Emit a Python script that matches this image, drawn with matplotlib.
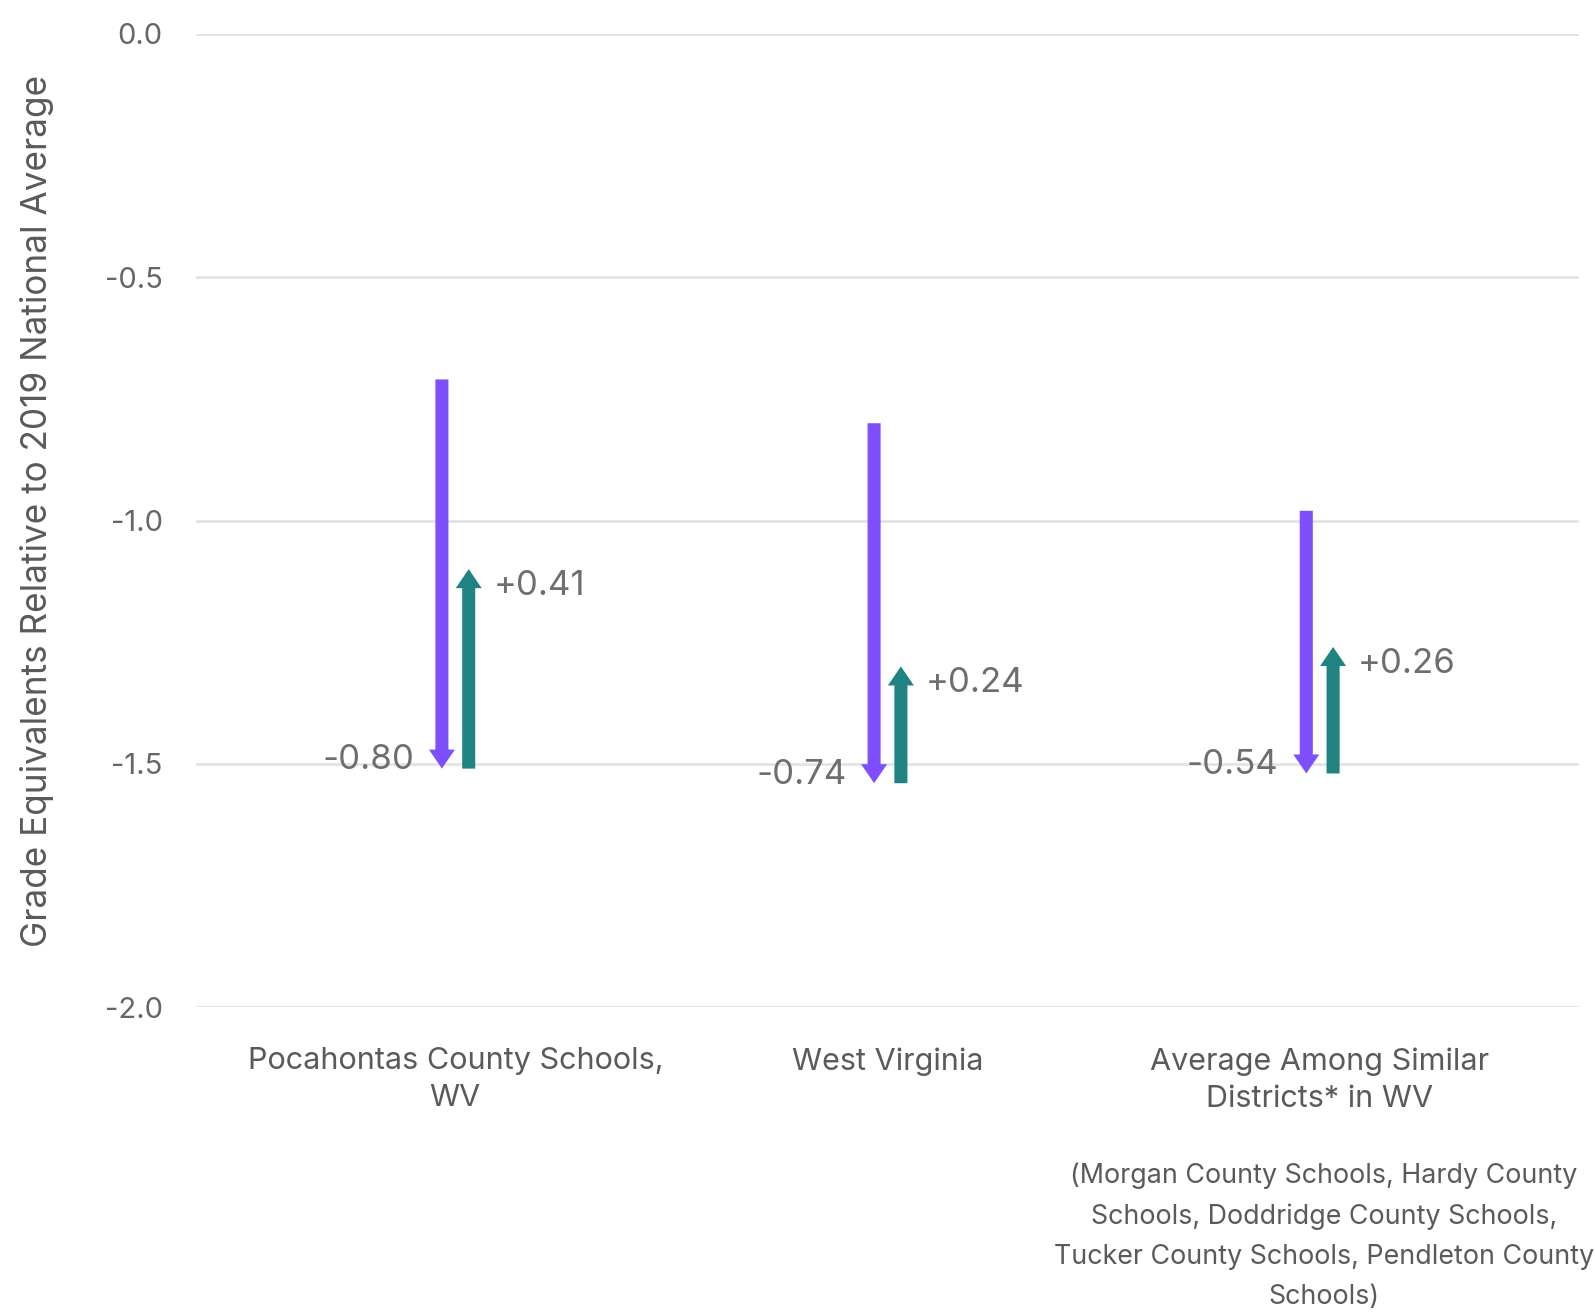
import matplotlib
matplotlib.use("Agg")
import matplotlib.pyplot as plt

# ----------------------------
# DATA
# ----------------------------

categories = ["Pocahontas County Schools,\nWV", "West Virginia", "Average Among Similar\nDistricts* in WV"]
drop_start = [-0.71, -0.80, -0.98]
drop_end = [-1.51, -1.54, -1.52]
drop_labels = ["-0.80", "-0.74", "-0.54"]
recovery_end = [-1.10, -1.30, -1.26]
recovery_labels = ["+0.41", "+0.24", "+0.26"]
yticks = [0.0, -0.5, -1.0, -1.5, -2.0]
footnote = ("(Morgan County Schools, Hardy County\nSchools, Doddridge County Schools,\n"
            "Tucker County Schools, Pendleton County\nSchools)")

PURPLE = "#7f4fff"
TEAL = "#1e8381"
TEXT = "#5a5a5a"

plt.rcParams["font.family"] = ["Inter", "DejaVu Sans"]

fig = plt.figure(figsize=(15.95, 13.12), dpi=100)
ax = fig.add_axes([196 / 1595, 1 - 1007 / 1312, 1383 / 1595, 973 / 1312])

ax.set_xlim(-0.6, 2.6)
ax.set_ylim(-2.0, 0.0)
for s in ax.spines.values():
    s.set_visible(False)

ax.set_yticks(yticks)
ax.set_yticklabels([f"{v:.1f}" for v in yticks])
ax.yaxis.grid(True, color="#e3e3e3", linewidth=2)
ax.set_axisbelow(True)
ax.tick_params(axis="y", length=0, pad=24, labelsize=21, labelcolor="#666666")

ax.set_xticks(range(len(categories)))
ax.set_xticklabels(categories)
ax.tick_params(axis="x", length=0, pad=29, labelsize=22, labelcolor=TEXT)
for lbl in ax.get_xticklabels():
    lbl.set_linespacing(1.4)

ax.set_ylabel("Grade Equivalents Relative to 2019 National Average", fontsize=25.3, color=TEXT)
ax.yaxis.set_label_coords(-0.103, 0.51)

# arrows (sizes in points, mutation_scale=1)
style = "simple,head_length=13.7,head_width=18.7,tail_width=9.4"
off = 0.031
for i in range(len(categories)):
    ax.annotate("", xy=(i - off, drop_end[i]), xytext=(i - off, drop_start[i]),
                arrowprops=dict(arrowstyle=style, mutation_scale=1, color=PURPLE,
                                shrinkA=0, shrinkB=0, linewidth=0))
    ax.annotate("", xy=(i + off, recovery_end[i]), xytext=(i + off, drop_end[i]),
                arrowprops=dict(arrowstyle=style, mutation_scale=1, color=TEAL,
                                shrinkA=0, shrinkB=0, linewidth=0))
    ax.annotate(drop_labels[i], xy=(i - off, drop_end[i]), xytext=(-20, 6),
                textcoords="offset points", ha="right", va="center",
                fontsize=25, color="#6e6e6e")
    ax.annotate(recovery_labels[i], xy=(i + off, recovery_end[i]), xytext=(18, -12),
                textcoords="offset points", ha="left", va="center",
                fontsize=25, color="#6e6e6e")

ax.text(2.01, -0.16, footnote, transform=ax.get_xaxis_transform(), ha="center", va="top",
        fontsize=19.3, color=TEXT, linespacing=1.7)

fig.savefig("out.png", dpi=100)
